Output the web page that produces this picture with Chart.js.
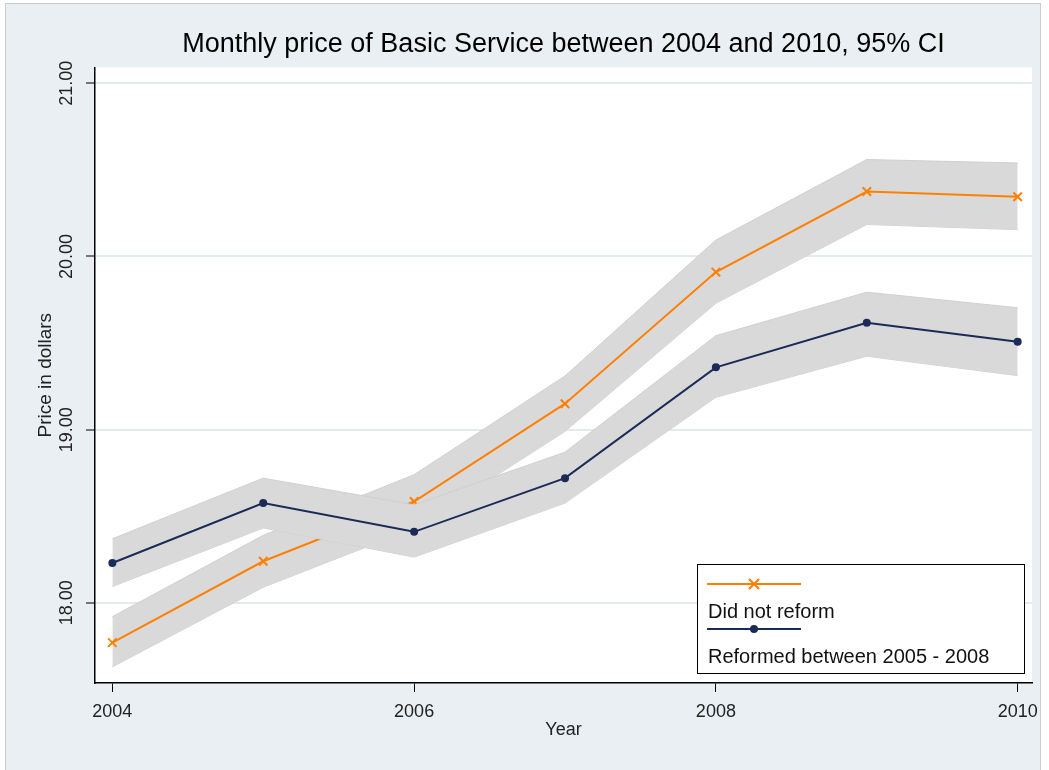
<!DOCTYPE html>
<html>
<head>
<meta charset="utf-8">
<script src="https://cdn.jsdelivr.net/npm/chart.js@4"></script>
<style>
  html, body { margin: 0; padding: 0; background: #fff; }
  #chart { display: block; }
</style>
</head>
<body>
<canvas id="chart" width="1049" height="770"></canvas>
<script>
// values
const years = [2004, 2005, 2006, 2007, 2008, 2009, 2010];
const noReform = [17.77, 18.24, 18.585, 19.15, 19.91, 20.375, 20.345];
const noReformHi = [17.92, 18.39, 18.74, 19.31, 20.095, 20.56, 20.54];
const noReformLo = [17.63, 18.09, 18.43, 18.99, 19.73, 20.185, 20.155];
const reformed = [18.23, 18.576, 18.41, 18.72, 19.36, 19.617, 19.507];
const reformedHi = [18.37, 18.72, 18.566, 18.87, 19.543, 19.794, 19.704];
const reformedLo = [18.094, 18.432, 18.264, 18.576, 19.187, 19.424, 19.312];
const xTicks = [2004, 2006, 2008, 2010];
const yTicks = [18, 19, 20, 21];
const seriesLabels = ['Did not reform', 'Reformed between 2005 - 2008'];

const ORANGE = '#ff8000';
const NAVY = '#1b2a57';
const BAND = '#d9d9d9';
const BAND_EDGE = '#d0d0d0';
const FONT = "'Liberation Sans', Arial, sans-serif";

const pts = vals => years.map((y, i) => ({ x: y, y: vals[i] }));

const bandSet = (vals, fill) => ({
  data: pts(vals),
  borderColor: BAND_EDGE,
  borderWidth: 1,
  backgroundColor: BAND,
  pointRadius: 0,
  fill: fill,
  tension: 0
});

// draws the framed light background and white plot region
const backdrop = {
  id: 'backdrop',
  beforeDraw(chart) {
    const { ctx, chartArea: a } = chart;
    ctx.save();
    ctx.fillStyle = '#fff';
    ctx.fillRect(0, 0, chart.width, chart.height);
    ctx.fillStyle = '#e9eff2';
    ctx.fillRect(5, 3, 1036, 767);
    ctx.strokeStyle = '#c6cbce';
    ctx.lineWidth = 1;
    ctx.strokeRect(5.5, 3.5, 1035, 767);
    ctx.fillStyle = '#fff';
    ctx.fillRect(a.left, a.top, a.right - a.left, a.bottom - a.top);
    ctx.restore();
  }
};

// stata style legend box: symbol row above each text row
const boxLegend = {
  id: 'boxLegend',
  afterDraw(chart) {
    const { ctx, chartArea: a } = chart;
    const left = a.right - 335, top = a.bottom - 119;
    ctx.save();
    ctx.fillStyle = '#fff';
    ctx.fillRect(left, top, 327, 109);
    ctx.strokeStyle = '#000';
    ctx.lineWidth = 1;
    ctx.strokeRect(left + 0.5, top + 0.5, 327, 109);
    const items = [
      { color: ORANGE, style: 'cross' },
      { color: NAVY, style: 'dot' }
    ];
    items.forEach((it, i) => {
      const ly = top + 20 + i * 45;
      ctx.strokeStyle = it.color;
      ctx.lineWidth = 2;
      ctx.beginPath();
      ctx.moveTo(left + 10, ly);
      ctx.lineTo(left + 104, ly);
      ctx.stroke();
      const mx = left + 57;
      if (it.style === 'cross') {
        ctx.beginPath();
        ctx.moveTo(mx - 5, ly - 5); ctx.lineTo(mx + 5, ly + 5);
        ctx.moveTo(mx + 5, ly - 5); ctx.lineTo(mx - 5, ly + 5);
        ctx.stroke();
      } else {
        ctx.fillStyle = it.color;
        ctx.beginPath();
        ctx.arc(mx, ly, 4, 0, Math.PI * 2);
        ctx.fill();
      }
      ctx.fillStyle = '#111';
      ctx.font = '20px ' + FONT;
      ctx.textBaseline = 'middle';
      ctx.textAlign = 'left';
      ctx.fillText(seriesLabels[i], left + 11, ly + 28);
    });
    ctx.restore();
  }
};

new Chart(document.getElementById('chart'), {
  type: 'line',
  data: {
    datasets: [
      {
        label: seriesLabels[1],
        data: pts(reformed),
        borderColor: NAVY,
        backgroundColor: NAVY,
        borderWidth: 2,
        pointStyle: 'circle',
        pointRadius: 4,
        pointBorderWidth: 0,
        fill: false,
        tension: 0
      },
      bandSet(reformedHi, '+1'),
      bandSet(reformedLo, false),
      {
        label: seriesLabels[0],
        data: pts(noReform),
        borderColor: ORANGE,
        backgroundColor: ORANGE,
        borderWidth: 2,
        pointStyle: 'crossRot',
        pointRadius: 6,
        pointBorderWidth: 2,
        fill: false,
        tension: 0
      },
      bandSet(noReformHi, '+1'),
      bandSet(noReformLo, false)
    ]
  },
  options: {
    responsive: false,
    animation: false,
    layout: { padding: { left: 0, right: 17, top: 0, bottom: 0 } },
    plugins: {
      legend: { display: false },
      tooltip: { enabled: false },
      title: {
        display: true,
        fullSize: false,
        text: 'Monthly price of Basic Service between 2004 and 2010, 95% CI',
        color: '#000',
        font: { family: FONT, size: 27, weight: 'normal' },
        padding: { top: 28, bottom: 7 }
      }
    },
    scales: {
      x: {
        type: 'linear',
        min: 2003.885,
        max: 2010.095,
        afterBuildTicks: s => { s.ticks = xTicks.map(v => ({ value: v })); },
        afterFit: s => { s.height = 87; },
        ticks: {
          color: '#222',
          font: { family: FONT, size: 18 },
          padding: 9,
          maxRotation: 0,
          callback: v => String(v)
        },
        grid: { drawOnChartArea: false, tickLength: 9, tickColor: '#000', tickWidth: 1 },
        border: { display: true, color: '#000', width: 1.5 },
        title: {
          display: true,
          text: 'Year',
          color: '#222',
          font: { family: FONT, size: 18 },
          padding: { top: 0, bottom: 29 }
        }
      },
      y: {
        type: 'linear',
        min: 17.537,
        max: 21.092,
        afterBuildTicks: s => { s.ticks = yTicks.map(v => ({ value: v })); },
        afterFit: s => { s.width = 95; },
        ticks: {
          color: '#222',
          font: { family: FONT, size: 18 },
          padding: -4,
          minRotation: 90,
          maxRotation: 90,
          crossAlign: 'center',
          callback: v => Number(v).toFixed(2)
        },
        grid: { color: '#e3ebef', lineWidth: 2, tickLength: 9, tickColor: '#000', tickWidth: 1 },
        border: { display: true, color: '#000', width: 1.5 },
        title: {
          display: true,
          text: 'Price in dollars',
          color: '#222',
          font: { family: FONT, size: 19 },
          padding: { top: 34, bottom: 0 }
        }
      }
    }
  },
  plugins: [backdrop, boxLegend]
});
</script>
</body>
</html>
